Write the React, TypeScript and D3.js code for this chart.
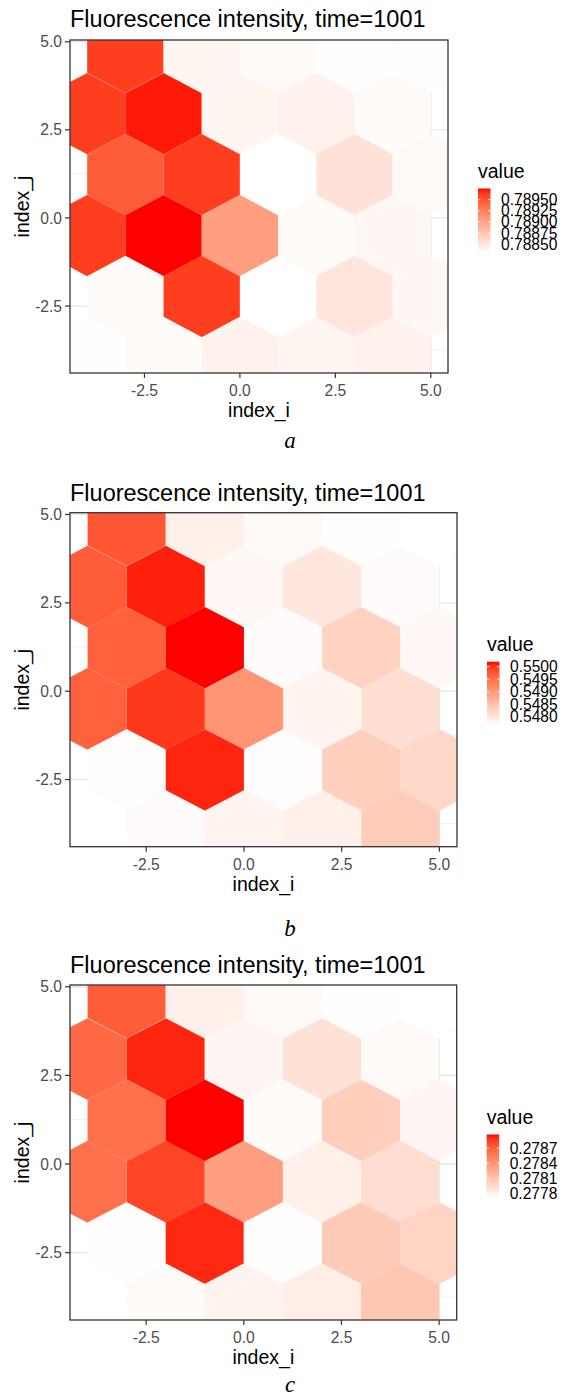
import React from "react";
import * as d3 from "d3";

// ---- data ----
const hexI = [
  -3, -1, 1, 3, 5,
  -4, -2, 0, 2, 4,
  -3, -1, 1, 3, 5,
  -4, -2, 0, 2, 4,
  -3, -1, 1, 3, 5,
  -4, -2, 0, 2, 4,
];
const hexJ = [
  4.7, 4.7, 4.7, 4.7, 4.7,
  2.96, 2.96, 2.96, 2.96, 2.96,
  1.23, 1.23, 1.23, 1.23, 1.23,
  -0.5, -0.5, -0.5, -0.5, -0.5,
  -2.23, -2.23, -2.23, -2.23, -2.23,
  -3.96, -3.96, -3.96, -3.96, -3.96,
];
const valuesA = [
  0.78961, 0.78838, 0.78835, 0.78832, 0.78832,
  0.78961, 0.78972, 0.78838, 0.78841, 0.78834,
  0.78946, 0.78961, 0.78831, 0.78853, 0.78835,
  0.78961, 0.78975, 0.78903, 0.78834, 0.78837,
  0.78834, 0.78961, 0.78831, 0.78851, 0.78837,
  0.78832, 0.78834, 0.78841, 0.78838, 0.78841,
];
const valuesB = [
  0.54974, 0.54784, 0.54772, 0.54767, 0.54764,
  0.54969, 0.55012, 0.54774, 0.54797, 0.54769,
  0.54964, 0.5502, 0.54769, 0.54825, 0.54774,
  0.54964, 0.55, 0.54905, 0.54779, 0.54808,
  0.54767, 0.5501, 0.54767, 0.54828, 0.54818,
  0.54764, 0.54769, 0.54779, 0.54784, 0.54833,
];
const valuesC = [
  0.27871, 0.27779, 0.27773, 0.2777, 0.27769,
  0.27865, 0.27892, 0.27775, 0.27789, 0.27773,
  0.27861, 0.27897, 0.27772, 0.27802, 0.27775,
  0.27861, 0.27882, 0.27833, 0.27779, 0.27792,
  0.2777, 0.27891, 0.2777, 0.27804, 0.27798,
  0.27769, 0.27772, 0.27777, 0.27781, 0.27807,
];
const xTicks = [-2.5, 0, 2.5, 5];
const yTicks = [-2.5, 0, 2.5, 5];
const xMinor = [-3.75, -1.25, 1.25, 3.75];
const yMinor = [-3.75, -1.25, 1.25, 3.75];
const legendTicksA = [0.7885, 0.78875, 0.789, 0.78925, 0.7895];
const legendTicksB = [0.548, 0.5485, 0.549, 0.5495, 0.55];
const legendTicksC = [0.2778, 0.2781, 0.2784, 0.2787];
const plotTitle = "Fluorescence intensity, time=1001";
const xTitle = "index_i";
const yTitle = "index_j";
const legendTitle = "value";
const captions = ["a", "b", "c"];

// ---- layout ----
const W = 563;
const H = 1399;
const xDomain = [-4.45, 5.45];
const yDomain = [-4.4, 5.05];
const FONT = "'Liberation Sans', Arial, sans-serif";

const panels = [
  { values: valuesA, ticks: legendTicksA, dec: 5, left: 70, right: 448, top: 40, bottom: 373, titleY: 27, captionY: 448, caption: captions[0] },
  { values: valuesB, ticks: legendTicksB, dec: 4, left: 70, right: 457, top: 512.7, bottom: 846.7, titleY: 500.5, captionY: 936, caption: captions[1] },
  { values: valuesC, ticks: legendTicksC, dec: 4, left: 70, right: 456.7, top: 985, bottom: 1320, titleY: 973, captionY: 1392, caption: captions[2] },
];

const S = 2 / Math.sqrt(3);

function Panel({ p, idx }: { p: any; idx: number }) {
  const x = d3.scaleLinear().domain(xDomain).range([p.left, p.right]);
  const y = d3.scaleLinear().domain(yDomain).range([p.bottom, p.top]);
  const ext = d3.extent(p.values as number[]) as [number, number];
  const color = d3.scaleLinear<string>().domain(ext).range(["white", "red"]).interpolate(d3.interpolateLab);
  const clipId = `clip${idx}`;
  const hexPath = (cx: number, cy: number) => {
    const pts: [number, number][] = [
      [cx, cy + S],
      [cx + 1, cy + S / 2],
      [cx + 1, cy - S / 2],
      [cx, cy - S],
      [cx - 1, cy - S / 2],
      [cx - 1, cy + S / 2],
    ];
    return d3.line()(pts.map(([a, b]) => [x(a), y(b)])) + "Z";
  };
  const fmt = (v: number) => v.toFixed(1);

  // legend
  const cy = (p.top + p.bottom) / 2;
  const barTop = cy - 18;
  const barH = 64;
  const barW = 12.5;
  const barX = p.right + 30;
  const ly = d3.scaleLinear().domain(ext).range([barTop + barH, barTop]);
  const gradId = `grad${idx}`;
  const stops = d3.range(0, 1.0001, 0.05);

  return (
    <g>
      <defs>
        <clipPath id={clipId}>
          <rect x={p.left} y={p.top} width={p.right - p.left} height={p.bottom - p.top} />
        </clipPath>
        <linearGradient id={gradId} x1="0" y1="1" x2="0" y2="0">
          {stops.map((t, i) => (
            <stop key={i} offset={t} stopColor={color(ext[0] + t * (ext[1] - ext[0]))} />
          ))}
        </linearGradient>
      </defs>
      <text x={p.left} y={p.titleY} fontFamily={FONT} fontSize={23.5} fill="#000">{plotTitle}</text>
      <rect x={p.left} y={p.top} width={p.right - p.left} height={p.bottom - p.top} fill="white" />
      <g clipPath={`url(#${clipId})`}>
        {xMinor.map((v) => (
          <line key={"xm" + v} x1={x(v)} x2={x(v)} y1={p.top} y2={p.bottom} stroke="#EBEBEB" strokeWidth={0.7} />
        ))}
        {yMinor.map((v) => (
          <line key={"ym" + v} y1={y(v)} y2={y(v)} x1={p.left} x2={p.right} stroke="#EBEBEB" strokeWidth={0.7} />
        ))}
        {xTicks.map((v) => (
          <line key={"xg" + v} x1={x(v)} x2={x(v)} y1={p.top} y2={p.bottom} stroke="#E6E6E6" strokeWidth={1.3} />
        ))}
        {yTicks.map((v) => (
          <line key={"yg" + v} y1={y(v)} y2={y(v)} x1={p.left} x2={p.right} stroke="#E6E6E6" strokeWidth={1.3} />
        ))}
        {p.values.map((v: number, i: number) => (
          <path key={i} d={hexPath(hexI[i], hexJ[i])} fill={color(v)} />
        ))}
      </g>
      <rect x={p.left} y={p.top} width={p.right - p.left} height={p.bottom - p.top} fill="none" stroke="#333333" strokeWidth={1.3} />
      {xTicks.map((v) => (
        <g key={"xt" + v}>
          <line x1={x(v)} x2={x(v)} y1={p.bottom} y2={p.bottom + 5} stroke="#333333" strokeWidth={1.2} />
          <text x={x(v)} y={p.bottom + 23} textAnchor="middle" fontFamily={FONT} fontSize={15.6} fill="#4D4D4D">{fmt(v)}</text>
        </g>
      ))}
      {yTicks.map((v) => (
        <g key={"yt" + v}>
          <line x1={p.left - 5} x2={p.left} y1={y(v)} y2={y(v)} stroke="#333333" strokeWidth={1.2} />
          <text x={p.left - 8} y={y(v)} dy="0.36em" textAnchor="end" fontFamily={FONT} fontSize={15.6} fill="#4D4D4D">{fmt(v)}</text>
        </g>
      ))}
      <text x={(p.left + p.right) / 2} y={p.bottom + 44} textAnchor="middle" fontFamily={FONT} fontSize={19.5} fill="#000">{xTitle}</text>
      <text transform={`translate(28.5,${(p.top + p.bottom) / 2}) rotate(-90)`} textAnchor="middle" fontFamily={FONT} fontSize={19.5} fill="#000">{yTitle}</text>
      {/* legend */}
      <text x={barX} y={barTop - 11} fontFamily={FONT} fontSize={19.5} fill="#000">{legendTitle}</text>
      <rect x={barX} y={barTop} width={barW} height={barH} fill={`url(#${gradId})`} />
      {p.ticks.map((t: number) => (
        <g key={"lt" + t}>
          <line x1={barX} x2={barX + 2.5} y1={ly(t)} y2={ly(t)} stroke="white" strokeWidth={0.8} />
          <line x1={barX + barW - 2.5} x2={barX + barW} y1={ly(t)} y2={ly(t)} stroke="white" strokeWidth={0.8} />
          <text x={barX + barW + 10.5} y={ly(t)} dy="0.36em" fontFamily={FONT} fontSize={15.6} fill="#000">{t.toFixed(p.dec)}</text>
        </g>
      ))}
      <text x={290} y={p.captionY} textAnchor="middle" fontFamily="'Liberation Serif', 'Times New Roman', serif" fontStyle="italic" fontSize={23} fill="#000">{p.caption}</text>
    </g>
  );
}

export default function App() {
  return (
    <svg width={W} height={H} style={{ position: "absolute", left: 0, top: 0, display: "block", background: "white" }}>
      <rect x={0} y={0} width={W} height={H} fill="white" />
      {panels.map((p, i) => (
        <Panel key={i} p={p} idx={i} />
      ))}
    </svg>
  );
}
